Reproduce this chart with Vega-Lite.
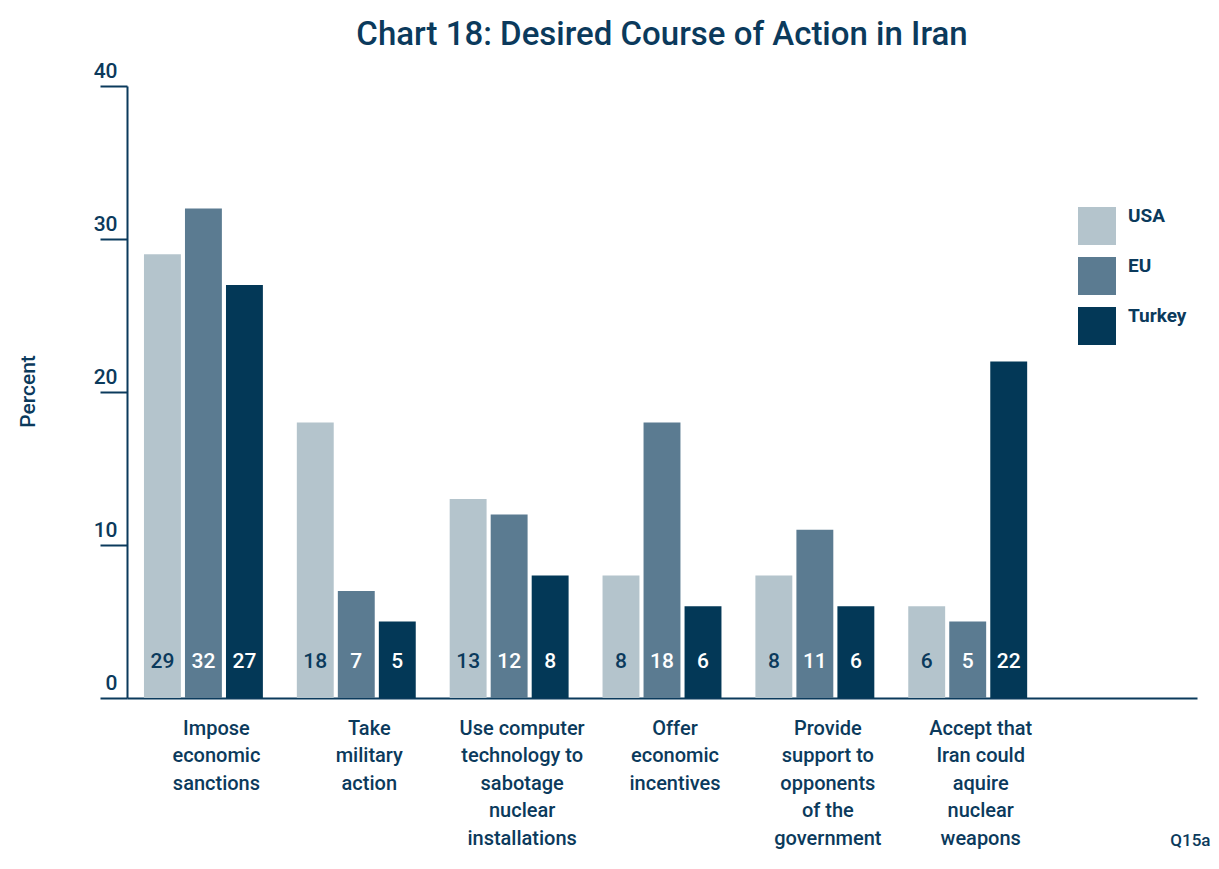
{
  "$schema": "https://vega.github.io/schema/vega-lite/v6.json",
  "width": 1070,
  "height": 612,
  "autosize": "none",
  "padding": {"left": 127, "top": 86, "right": 22, "bottom": 171},
  "background": "white",
  "title": {
    "text": "Chart 18: Desired Course of Action in Iran",
    "fontSize": 33,
    "font": "Roboto",
    "fontWeight": 500,
    "color": "#0b3a5c",
    "anchor": "middle",
    "frame": "group",
    "dy": -4
  },
  "config": {
    "view": {"stroke": null},
    "font": "Roboto",
    "text": {"font": "Roboto"}
  },
  "data": {
    "values": [
      {"action": "Impose|economic|sanctions", "country": "USA", "pct": 29},
      {"action": "Impose|economic|sanctions", "country": "EU", "pct": 32},
      {"action": "Impose|economic|sanctions", "country": "Turkey", "pct": 27},
      {"action": "Take|military|action", "country": "USA", "pct": 18},
      {"action": "Take|military|action", "country": "EU", "pct": 7},
      {"action": "Take|military|action", "country": "Turkey", "pct": 5},
      {"action": "Use computer|technology to|sabotage|nuclear|installations", "country": "USA", "pct": 13},
      {"action": "Use computer|technology to|sabotage|nuclear|installations", "country": "EU", "pct": 12},
      {"action": "Use computer|technology to|sabotage|nuclear|installations", "country": "Turkey", "pct": 8},
      {"action": "Offer|economic|incentives", "country": "USA", "pct": 8},
      {"action": "Offer|economic|incentives", "country": "EU", "pct": 18},
      {"action": "Offer|economic|incentives", "country": "Turkey", "pct": 6},
      {"action": "Provide|support to|opponents|of the|government", "country": "USA", "pct": 8},
      {"action": "Provide|support to|opponents|of the|government", "country": "EU", "pct": 11},
      {"action": "Provide|support to|opponents|of the|government", "country": "Turkey", "pct": 6},
      {"action": "Accept that|Iran could|aquire|nuclear|weapons", "country": "USA", "pct": 6},
      {"action": "Accept that|Iran could|aquire|nuclear|weapons", "country": "EU", "pct": 5},
      {"action": "Accept that|Iran could|aquire|nuclear|weapons", "country": "Turkey", "pct": 22}
    ]
  },
  "encoding": {
    "x": {
      "field": "action",
      "type": "nominal",
      "sort": null,
      "scale": {
        "domain": [
          "Impose|economic|sanctions",
          "Take|military|action",
          "Use computer|technology to|sabotage|nuclear|installations",
          "Offer|economic|incentives",
          "Provide|support to|opponents|of the|government",
          "Accept that|Iran could|aquire|nuclear|weapons",
          " "
        ],
        "paddingInner": 0.222,
        "paddingOuter": 0.111
      },
      "axis": {
        "title": "Q15a",
        "titleFont": "Roboto",
        "titleFontSize": 17,
        "titleFontWeight": 500,
        "titleColor": "#0b3a5c",
        "titleAnchor": "end",
        "titleAlign": "right",
        "titleBaseline": "alphabetic",
        "titleX": 1083,
        "titleY": 147,
        "labelExpr": "split(datum.label, '|')",
        "labelAngle": 0,
        "labelFont": "Roboto",
        "labelFontSize": 20,
        "labelFontWeight": 500,
        "labelColor": "#0b3a5c",
        "labelLineHeight": 27.5,
        "labelBaseline": "top",
        "labelPadding": 20,
        "labelOffset": 13,
        "ticks": false,
        "domainColor": "#0b3a5c",
        "domainWidth": 2,
        "labelOverlap": false
      }
    },
    "xOffset": {
      "field": "country",
      "type": "nominal",
      "sort": ["USA", "EU", "Turkey"],
      "scale": {"paddingInner": 0.1, "paddingOuter": 0}
    }
  },
  "layer": [
    {
      "mark": {"type": "bar"},
      "encoding": {
        "y": {
          "field": "pct",
          "type": "quantitative",
          "scale": {"domain": [0, 40], "nice": false},
          "axis": {
            "title": "Percent",
            "titleFont": "Roboto",
            "titleFontSize": 21,
            "titleFontWeight": 500,
            "titleColor": "#0b3a5c",
            "titleAngle": -90,
            "titleAlign": "center",
            "titleBaseline": "middle",
            "titleX": -99,
            "titleY": 305,
            "values": [0, 10, 20, 30, 40],
            "grid": false,
            "tickSize": 27,
            "tickWidth": 2,
            "tickColor": "#0b3a5c",
            "domainColor": "#0b3a5c",
            "domainWidth": 2,
            "labelFont": "Roboto",
            "labelFontSize": 21,
            "labelFontWeight": 500,
            "labelColor": "#0b3a5c",
            "labelAlign": "right",
            "labelBaseline": "alphabetic",
            "labelPadding": -17,
            "labelOffset": -9,
            "labelFlush": false,
            "labelOverlap": false
          }
        },
        "color": {
          "field": "country",
          "type": "nominal",
          "scale": {"domain": ["USA", "EU", "Turkey"], "range": ["#b4c4cc", "#5b7b91", "#033857"]},
          "legend": {
            "title": null,
            "orient": "none",
            "legendX": 951,
            "legendY": 121,
            "padding": 0,
            "symbolType": "square",
            "symbolSize": 1444,
            "symbolStrokeWidth": 0,
            "symbolOpacity": 1,
            "rowPadding": 12,
            "labelFont": "Roboto",
            "labelFontSize": 19,
            "labelFontWeight": "bold",
            "labelColor": "#0b3a5c",
            "labelBaseline": "bottom",
            "labelOffset": 12
          }
        }
      }
    },
    {
      "mark": {"type": "text", "baseline": "middle", "dy": -36, "fontSize": 21, "fontWeight": 500, "font": "Roboto"},
      "encoding": {
        "y": {"datum": 0},
        "text": {"field": "pct", "type": "quantitative"},
        "color": {
          "condition": {"test": "datum.country === 'USA'", "value": "#0b3a5c"},
          "value": "white"
        }
      }
    }
  ]
}
